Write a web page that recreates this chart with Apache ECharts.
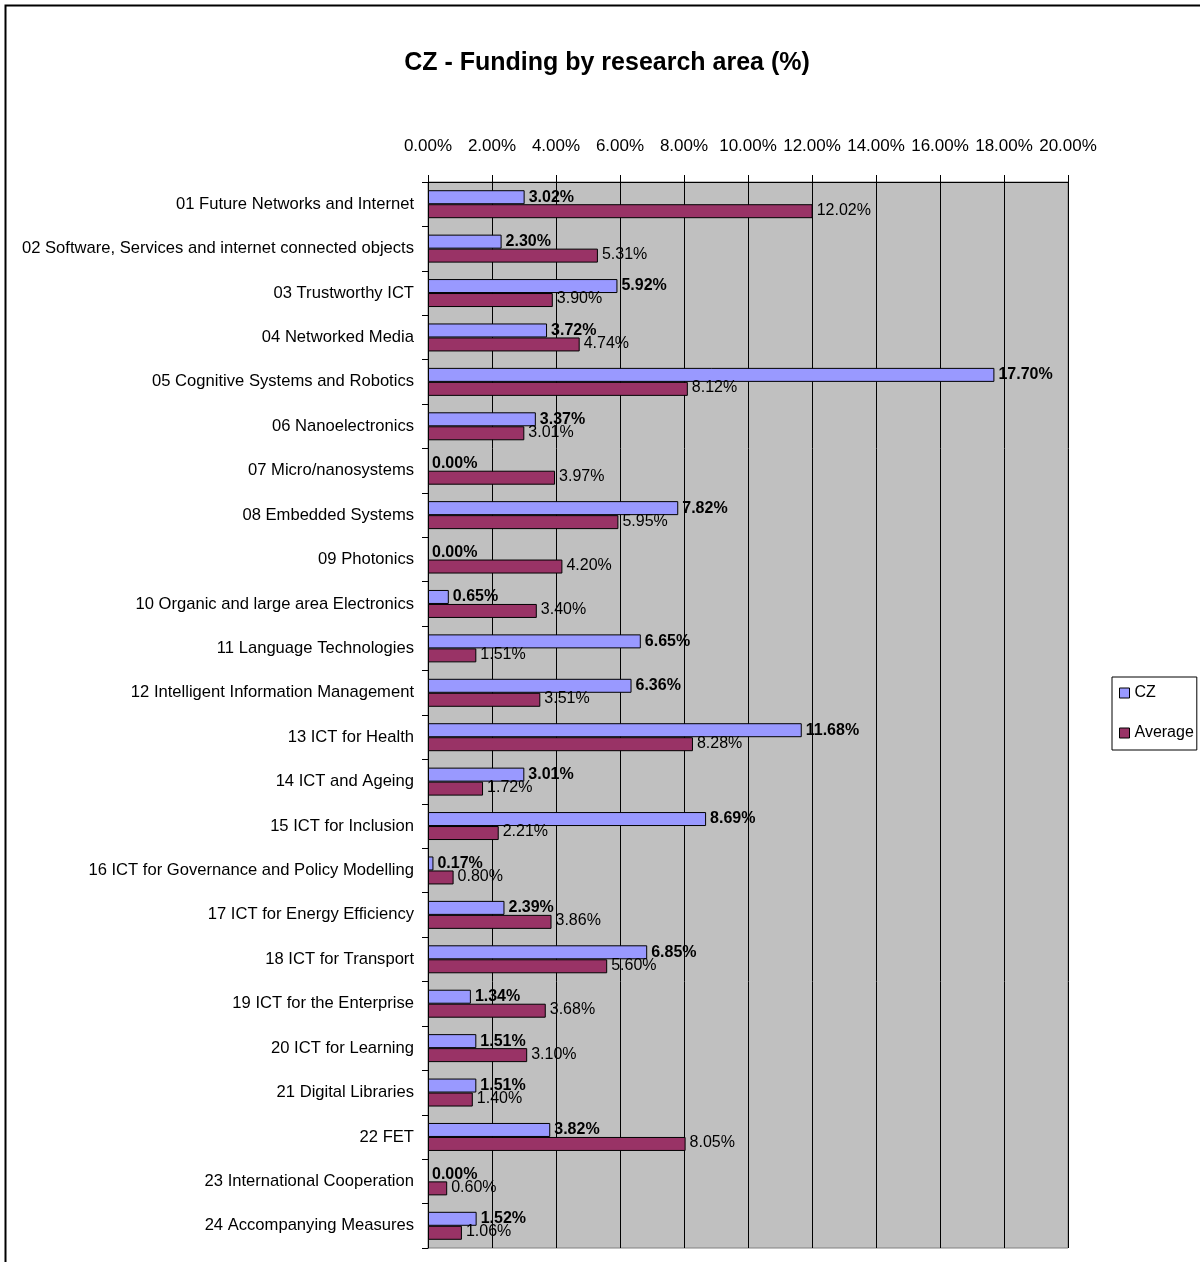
<!DOCTYPE html>
<html>
<head>
<meta charset="utf-8">
<script src="https://cdn.jsdelivr.net/npm/echarts@6/dist/echarts.min.js"></script>
<style>
html,body{margin:0;padding:0;background:#fff;}
#chart{width:1200px;height:1262px;}
</style>
</head>
<body>
<div id="chart"></div>
<script>
const categories = [
  "01 Future Networks and Internet",
  "02 Software, Services and internet connected objects",
  "03 Trustworthy ICT",
  "04 Networked Media",
  "05 Cognitive Systems and Robotics",
  "06 Nanoelectronics",
  "07 Micro/nanosystems",
  "08 Embedded Systems",
  "09 Photonics",
  "10 Organic and large area Electronics",
  "11 Language Technologies",
  "12 Intelligent Information Management",
  "13 ICT for Health",
  "14 ICT and Ageing",
  "15 ICT for Inclusion",
  "16 ICT for Governance and Policy Modelling",
  "17 ICT for Energy Efficiency",
  "18 ICT for Transport",
  "19 ICT for the Enterprise",
  "20 ICT for Learning",
  "21 Digital Libraries",
  "22 FET",
  "23 International Cooperation",
  "24 Accompanying Measures"
];
const czValues = [3.02, 2.30, 5.92, 3.72, 17.70, 3.37, 0.00, 7.82, 0.00, 0.65, 6.65, 6.36, 11.68, 3.01, 8.69, 0.17, 2.39, 6.85, 1.34, 1.51, 1.51, 3.82, 0.00, 1.52];
const avgValues = [12.02, 5.31, 3.90, 4.74, 8.12, 3.01, 3.97, 5.95, 4.20, 3.40, 1.51, 3.51, 8.28, 1.72, 2.21, 0.80, 3.86, 5.60, 3.68, 3.10, 1.40, 8.05, 0.60, 1.06];
const seriesNames = ["CZ", "Average"];
const axisMin = 0, axisMax = 20, axisStep = 2;

const FONT = "'Liberation Sans Narrow', 'Arial Narrow', 'Liberation Sans', Arial, sans-serif";
const pct = v => Number(v).toFixed(2) + '%';
// zero-length bars get no outline (as in the original)
const toItems = arr => arr.map(v => v === 0 ? {value: v, itemStyle: {borderWidth: 0}} : v);

const chart = echarts.init(document.getElementById('chart'), null, {renderer: 'canvas'});
chart.setOption({
  backgroundColor: '#ffffff',
  animation: false,
  textStyle: {fontFamily: FONT, color: '#000'},
  title: {
    text: 'CZ - Funding by research area (%)',
    left: 602, top: 46, textAlign: 'center',
    textStyle: {fontFamily: FONT, fontSize: 25, fontWeight: 'bold', color: '#000'}
  },
  graphic: [{
    type: 'rect', silent: true, z: 100,
    shape: {x: 5.5, y: 5.5, width: 1210, height: 1280},
    style: {fill: 'none', stroke: '#000', lineWidth: 2}
  }],
  legend: {
    orient: 'vertical',
    left: 1112, top: 677,
    padding: [8, 3, 9, 7],
    itemGap: 24,
    itemWidth: 10, itemHeight: 10,
    icon: 'rect',
    borderColor: '#000', borderWidth: 1,
    backgroundColor: '#fff',
    textStyle: {fontFamily: FONT, fontSize: 16, color: '#000'},
    data: seriesNames.map(n => ({name: n, itemStyle: {borderColor: '#000', borderWidth: 1}}))
  },
  grid: {
    left: 428, right: 132, top: 182, bottom: 14,
    outerBoundsMode: 'none',
    containLabel: false,
    show: true, backgroundColor: '#C0C0C0', borderColor: '#808080', borderWidth: 1
  },
  xAxis: {
    type: 'value', position: 'top',
    min: axisMin, max: axisMax, interval: axisStep,
    axisLine: {show: true, lineStyle: {color: '#000', width: 1}},
    axisTick: {show: true, inside: false, length: 7, lineStyle: {color: '#000'}},
    axisLabel: {formatter: v => pct(v), fontFamily: FONT, fontSize: 17, color: '#000', margin: 27,
      hideOverlap: false, showMaxLabel: true, showMinLabel: true},
    splitLine: {show: true, lineStyle: {color: '#000', width: 1}}
  },
  yAxis: {
    type: 'category', inverse: true, data: categories,
    axisLine: {show: true, lineStyle: {color: '#000', width: 1}},
    axisTick: {show: true, inside: false, length: 6, lineStyle: {color: '#000'}},
    axisLabel: {fontFamily: FONT, fontSize: 16.6, color: '#000', margin: 14, interval: 0},
    splitLine: {show: false}
  },
  series: [
    {
      name: seriesNames[0], type: 'bar', data: toItems(czValues),
      barGap: '0%', barCategoryGap: '37%',
      itemStyle: {color: '#9999FF', borderColor: '#000', borderWidth: 1},
      label: {show: true, position: 'right', distance: 4, formatter: p => pct(p.value),
        fontFamily: FONT, fontSize: 16, fontWeight: 'bold', color: '#000'}
    },
    {
      name: seriesNames[1], type: 'bar', data: toItems(avgValues),
      barGap: '0%', barCategoryGap: '37%',
      itemStyle: {color: '#993366', borderColor: '#000', borderWidth: 1},
      label: {show: true, position: 'right', distance: 4, formatter: p => pct(p.value),
        fontFamily: FONT, fontSize: 16, color: '#000', offset: [0, -1]}
    }
  ]
});
</script>
</body>
</html>
